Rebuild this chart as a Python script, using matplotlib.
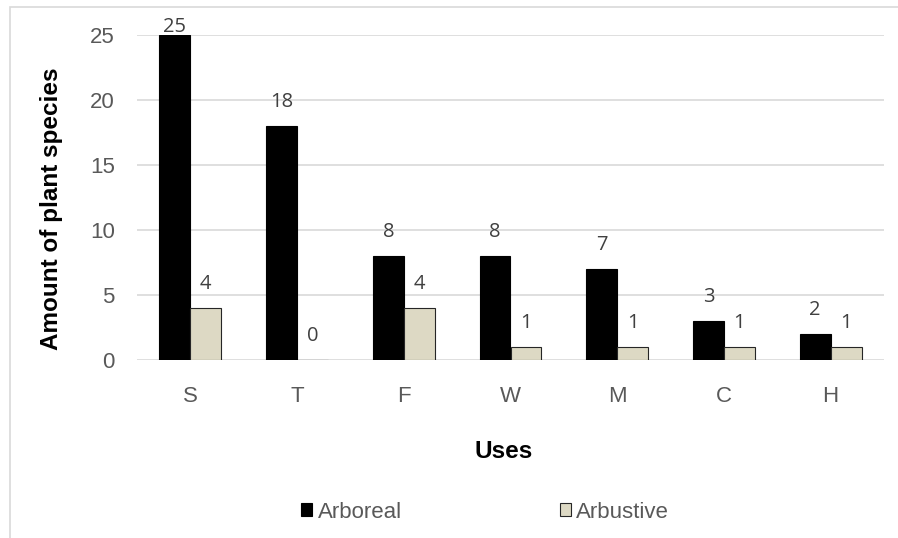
import matplotlib
matplotlib.use("Agg")
import matplotlib.pyplot as plt
import numpy as np
from matplotlib.patches import Rectangle

categories = ["S", "T", "F", "W", "M", "C", "H"]
arboreal = [25, 18, 8, 8, 7, 3, 2]
arbustive = [4, 0, 4, 1, 1, 1, 1]
yticks = [0, 5, 10, 15, 20, 25]

plt.rcParams['font.family'] = ['Liberation Sans', 'DejaVu Sans']

fig = plt.figure(figsize=(8.98, 5.38), dpi=100)
ax = fig.add_axes([137/898, 1-360/538, 747/898, 325/538])

x = np.arange(len(categories))
w = 0.29
b1 = ax.bar(x - w/2, arboreal, w, color='black', edgecolor='black', linewidth=0.8, label='Arboreal', zorder=3)
b2 = ax.bar(x + w/2, arbustive, w, color='#DDD9C4', edgecolor='#262626', linewidth=0.8, label='Arbustive', zorder=3)

off = 24/13
for xs, vals in ((x - w/2, arboreal), (x + w/2, arbustive)):
    for xi, v in zip(xs, vals):
        ax.text(xi, min(v + off, 25.65), str(v), ha='center', va='center', fontsize=14.5,
                color='#404040', family=['Open Sans', 'DejaVu Sans'], clip_on=False)

ax.set_xlim(-0.5, len(categories) - 0.5)
ax.set_ylim(0, 25)
ax.set_yticks(yticks)
ax.set_xticks(x)
ax.set_xticklabels(categories)
ax.tick_params(length=0, labelsize=16, labelcolor='#595959')
ax.tick_params(axis='x', pad=19)
ax.tick_params(axis='y', pad=16)
ax.grid(axis='y', color='#D9D9D9', linewidth=1.2, zorder=0)
for s in ax.spines.values():
    s.set_visible(False)

yl = ax.set_ylabel('Amount of plant species', fontsize=17.5, fontweight='bold', color='black',
                   ha='center', va='center')
ax.yaxis.set_label_coords((52 - 137) / 747, (360 - 208.5) / 325)
xl = ax.set_xlabel('Uses', fontsize=17.5, fontweight='bold', color='black', va='center')
ax.xaxis.set_label_coords((504 - 137) / 747, (360 - 452) / 325)

leg = fig.legend(handles=[b1, b2], loc='center', bbox_to_anchor=(485/898, 1-512/538), ncol=2,
                 frameon=False, fontsize=16, handlelength=0.5, handleheight=0.5,
                 handletextpad=0.25, columnspacing=7.1)
for t in leg.get_texts():
    t.set_color('#595959')

fig.patches.append(Rectangle((10/898, -0.01), 1.0, 1 - 7/538 + 0.01, transform=fig.transFigure,
                             fill=False, edgecolor='#D9D9D9', linewidth=1.2))

fig.savefig('out.png', dpi=100)
